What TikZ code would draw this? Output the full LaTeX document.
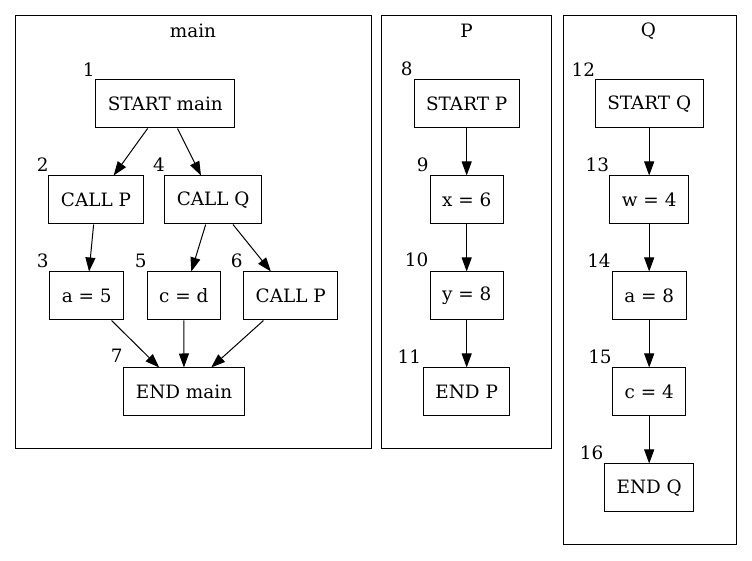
\documentclass[tikz,border=0pt]{standalone}
\usepackage{fontspec}
\setmainfont{DejaVu Serif}
\usetikzlibrary{arrows.meta}

\begin{document}
\begin{tikzpicture}
  [x=0.5pt,y=-0.5pt,line width=0.5pt,
   every node/.style={font=\fontsize{9.2pt}{11pt}\selectfont},
   box/.style={draw,rectangle,minimum height=24pt,minimum width=36pt,inner xsep=6pt},
   edge/.style={-{Triangle[length=7pt,width=5pt]}}]
  \useasboundingbox (0,0) rectangle (752,561);

  % clusters
  \draw (16,16) rectangle (371,449);
  \draw (381,16) rectangle (551.5,449);
  \draw (563,16) rectangle (736,545);
  \node (cmain) at (193,31) {main};
  \node (cp) at (466.5,31) {P};
  \node (cq) at (648.5,31) {Q};

  % main
  \node[box] (n1) at (165.3,104) {START main};
  \node[box] (n2) at (96,200) {CALL P};
  \node[box] (n3) at (86.7,296) {a = 5};
  \node[box] (n4) at (213.2,200) {CALL Q};
  \node[box] (n5) at (183.8,296) {c = d};
  \node[box] (n6) at (290.7,296) {CALL P};
  \node[box] (n7) at (184,392) {END main};

  % P
  \node[box] (n8) at (466.7,104) {START P};
  \node[box] (n9) at (466.7,200) {x = 6};
  \node[box] (n10) at (466.7,296) {y = 8};
  \node[box] (n11) at (466.7,392) {END P};

  % Q
  \node[box] (n12) at (649.2,104) {START Q};
  \node[box] (n13) at (649.2,200) {w = 4};
  \node[box] (n14) at (649.2,296) {a = 8};
  \node[box] (n15) at (649.2,392) {c = 4};
  \node[box] (n16) at (649.2,488) {END Q};

  % numbers
  \foreach \n/\x/\y in {1/88.7/69.3,2/42.7/164.7,3/42.7/260.7,4/159/164.7,
                        5/140.7/260.7,6/236.7/260.7,7/116.7/356,8/406.7/69.3,
                        9/422.7/164.7,10/416.7/260.3,11/409.3/356.7,12/583.3/69.3,
                        13/597.3/164.7,14/599/260.3,15/600/356.7,16/591.7/452.7}
    \node (l\n) at (\x,\y) {\n};

  \foreach \from/\to in {n1/n2,n1/n4,n2/n3,n4/n5,n4/n6,n3/n7,n5/n7,n6/n7,
                         n8/n9,n9/n10,n10/n11,
                         n12/n13,n13/n14,n14/n15,n15/n16}
    \draw[edge] (\from) -- (\to);

\end{tikzpicture}
\end{document}
